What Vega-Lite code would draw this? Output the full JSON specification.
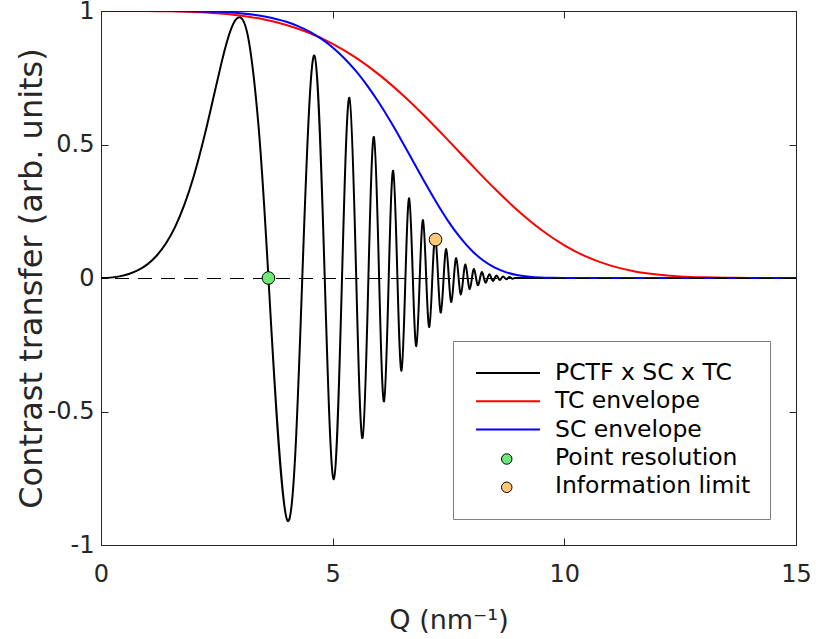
{
  "$schema": "https://vega.github.io/schema/vega-lite/v6.json",
  "width": 695,
  "height": 534,
  "autosize": {"type": "none"},
  "padding": {"left": 101, "top": 11, "right": 20, "bottom": 94},
  "background": "#ffffff",
  "config": {
    "view": {"stroke": "#262626", "strokeWidth": 1},
    "font": "DejaVu Sans",
    "axis": {
      "domain": false, "grid": false,
      "ticks": true, "tickSize": 7, "offset": -7, "tickColor": "#262626", "tickWidth": 1,
      "labelFont": "DejaVu Sans", "labelFontSize": 24, "labelColor": "#262626",
      "labelFlush": false, "labelOverlap": false, "labelBound": false,
      "titleFont": "DejaVu Sans", "titleFontWeight": "normal", "titleColor": "#262626"
    },
    "axisX": {"labelPadding": 17, "titlePadding": 21, "titleFontSize": 27},
    "axisY": {"labelPadding": 7, "titlePadding": -1, "titleFontSize": 32}
  },
  "datasets": {
    "curves": [
      {"s": "PCTF x SC x TC", "g": "a", "q": 0, "v": 0},
      {"s": "PCTF x SC x TC", "g": "a", "q": 0.2, "v": 0.0014},
      {"s": "PCTF x SC x TC", "g": "a", "q": 0.4, "v": 0.0061},
      {"s": "PCTF x SC x TC", "g": "a", "q": 0.6, "v": 0.0148},
      {"s": "PCTF x SC x TC", "g": "a", "q": 0.8, "v": 0.0291},
      {"s": "PCTF x SC x TC", "g": "a", "q": 1.0, "v": 0.0511},
      {"s": "PCTF x SC x TC", "g": "a", "q": 1.2, "v": 0.0834},
      {"s": "PCTF x SC x TC", "g": "a", "q": 1.4, "v": 0.1291},
      {"s": "PCTF x SC x TC", "g": "a", "q": 1.6, "v": 0.1916},
      {"s": "PCTF x SC x TC", "g": "a", "q": 1.8, "v": 0.2746},
      {"s": "PCTF x SC x TC", "g": "a", "q": 2.0, "v": 0.3803},
      {"s": "PCTF x SC x TC", "g": "a", "q": 2.2, "v": 0.5091},
      {"s": "PCTF x SC x TC", "g": "a", "q": 2.4, "v": 0.6557},
      {"s": "PCTF x SC x TC", "g": "a", "q": 2.6, "v": 0.8057},
      {"s": "PCTF x SC x TC", "g": "a", "q": 2.8, "v": 0.9294},
      {"s": "PCTF x SC x TC", "g": "a", "q": 3.0, "v": 0.9763},
      {"s": "PCTF x SC x TC", "g": "a", "q": 3.2, "v": 0.8780},
      {"s": "PCTF x SC x TC", "g": "a", "q": 3.4, "v": 0.5691},
      {"s": "PCTF x SC x TC", "g": "a", "q": 3.6140, "v": 0},
      {"s": "PCTF x SC x TC", "g": "a", "q": 4.0269, "v": -0.9096},
      {"s": "PCTF x SC x TC", "g": "a", "q": 4.3442, "v": 0},
      {"s": "PCTF x SC x TC", "g": "a", "q": 4.6053, "v": 0.8330},
      {"s": "PCTF x SC x TC", "g": "a", "q": 4.8289, "v": 0},
      {"s": "PCTF x SC x TC", "g": "a", "q": 5.0255, "v": -0.7536},
      {"s": "PCTF x SC x TC", "g": "a", "q": 5.2017, "v": 0},
      {"s": "PCTF x SC x TC", "g": "a", "q": 5.3616, "v": 0.6751},
      {"s": "PCTF x SC x TC", "g": "a", "q": 5.5085, "v": 0},
      {"s": "PCTF x SC x TC", "g": "a", "q": 5.6446, "v": -0.5995},
      {"s": "PCTF x SC x TC", "g": "a", "q": 5.7714, "v": 0},
      {"s": "PCTF x SC x TC", "g": "a", "q": 5.8904, "v": 0.5283},
      {"s": "PCTF x SC x TC", "g": "a", "q": 6.0026, "v": 0},
      {"s": "PCTF x SC x TC", "g": "a", "q": 6.1088, "v": -0.4622},
      {"s": "PCTF x SC x TC", "g": "a", "q": 6.2097, "v": 0},
      {"s": "PCTF x SC x TC", "g": "a", "q": 6.3058, "v": 0.4018},
      {"s": "PCTF x SC x TC", "g": "a", "q": 6.3977, "v": 0},
      {"s": "PCTF x SC x TC", "g": "a", "q": 6.4858, "v": -0.3472},
      {"s": "PCTF x SC x TC", "g": "a", "q": 6.5704, "v": 0},
      {"s": "PCTF x SC x TC", "g": "a", "q": 6.6518, "v": 0.2984},
      {"s": "PCTF x SC x TC", "g": "a", "q": 6.7303, "v": 0},
      {"s": "PCTF x SC x TC", "g": "a", "q": 6.8061, "v": -0.2550},
      {"s": "PCTF x SC x TC", "g": "a", "q": 6.8794, "v": 0},
      {"s": "PCTF x SC x TC", "g": "a", "q": 6.9504, "v": 0.2168},
      {"s": "PCTF x SC x TC", "g": "a", "q": 7.0192, "v": 0},
      {"s": "PCTF x SC x TC", "g": "a", "q": 7.0860, "v": -0.1835},
      {"s": "PCTF x SC x TC", "g": "a", "q": 7.1510, "v": 0},
      {"s": "PCTF x SC x TC", "g": "a", "q": 7.2142, "v": 0.1545},
      {"s": "PCTF x SC x TC", "g": "a", "q": 7.2758, "v": 0},
      {"s": "PCTF x SC x TC", "g": "a", "q": 7.3358, "v": -0.1296},
      {"s": "PCTF x SC x TC", "g": "a", "q": 7.3943, "v": 0},
      {"s": "PCTF x SC x TC", "g": "a", "q": 7.4514, "v": 0.1082},
      {"s": "PCTF x SC x TC", "g": "a", "q": 7.5072, "v": 0},
      {"s": "PCTF x SC x TC", "g": "a", "q": 7.5618, "v": -0.0900},
      {"s": "PCTF x SC x TC", "g": "a", "q": 7.6152, "v": 0},
      {"s": "PCTF x SC x TC", "g": "a", "q": 7.6675, "v": 0.0745},
      {"s": "PCTF x SC x TC", "g": "a", "q": 7.7186, "v": 0},
      {"s": "PCTF x SC x TC", "g": "a", "q": 7.7688, "v": -0.0615},
      {"s": "PCTF x SC x TC", "g": "a", "q": 7.8180, "v": 0},
      {"s": "PCTF x SC x TC", "g": "a", "q": 7.8662, "v": 0.0505},
      {"s": "PCTF x SC x TC", "g": "a", "q": 7.9135, "v": 0},
      {"s": "PCTF x SC x TC", "g": "a", "q": 7.9600, "v": -0.0414},
      {"s": "PCTF x SC x TC", "g": "a", "q": 8.0057, "v": 0},
      {"s": "PCTF x SC x TC", "g": "a", "q": 8.0505, "v": 0.0338},
      {"s": "PCTF x SC x TC", "g": "a", "q": 8.0946, "v": 0},
      {"s": "PCTF x SC x TC", "g": "a", "q": 8.1380, "v": -0.0275},
      {"s": "PCTF x SC x TC", "g": "a", "q": 8.1807, "v": 0},
      {"s": "PCTF x SC x TC", "g": "a", "q": 8.2227, "v": 0.0223},
      {"s": "PCTF x SC x TC", "g": "a", "q": 8.2640, "v": 0},
      {"s": "PCTF x SC x TC", "g": "a", "q": 8.3047, "v": -0.0180},
      {"s": "PCTF x SC x TC", "g": "a", "q": 8.3448, "v": 0},
      {"s": "PCTF x SC x TC", "g": "a", "q": 8.3843, "v": 0.0145},
      {"s": "PCTF x SC x TC", "g": "a", "q": 8.4232, "v": 0},
      {"s": "PCTF x SC x TC", "g": "a", "q": 8.4616, "v": -0.0116},
      {"s": "PCTF x SC x TC", "g": "a", "q": 8.4994, "v": 0},
      {"s": "PCTF x SC x TC", "g": "a", "q": 8.5367, "v": 0.0093},
      {"s": "PCTF x SC x TC", "g": "a", "q": 8.5735, "v": 0},
      {"s": "PCTF x SC x TC", "g": "a", "q": 8.6099, "v": -0.0074},
      {"s": "PCTF x SC x TC", "g": "a", "q": 8.6457, "v": 0},
      {"s": "PCTF x SC x TC", "g": "a", "q": 8.6811, "v": 0.0059},
      {"s": "PCTF x SC x TC", "g": "a", "q": 8.7161, "v": 0},
      {"s": "PCTF x SC x TC", "g": "a", "q": 8.7506, "v": -0.0047},
      {"s": "PCTF x SC x TC", "g": "a", "q": 8.7847, "v": 0},
      {"s": "PCTF x SC x TC", "g": "a", "q": 8.8184, "v": 0.0037},
      {"s": "PCTF x SC x TC", "g": "a", "q": 8.8517, "v": 0},
      {"s": "PCTF x SC x TC", "g": "a", "q": 8.8846, "v": -0.0029},
      {"s": "PCTF x SC x TC", "g": "a", "q": 8.9172, "v": 0},
      {"s": "PCTF x SC x TC", "g": "b", "q": 8.9172, "v": 0},
      {"s": "PCTF x SC x TC", "g": "b", "q": 15, "v": 0},
      {"s": "TC envelope", "g": "a", "q": 0, "v": 1},
      {"s": "TC envelope", "g": "a", "q": 0.5, "v": 1.0},
      {"s": "TC envelope", "g": "a", "q": 1.0, "v": 0.9998},
      {"s": "TC envelope", "g": "a", "q": 1.5, "v": 0.9989},
      {"s": "TC envelope", "g": "a", "q": 2.0, "v": 0.9966},
      {"s": "TC envelope", "g": "a", "q": 2.5, "v": 0.9918},
      {"s": "TC envelope", "g": "a", "q": 3.0, "v": 0.9831},
      {"s": "TC envelope", "g": "a", "q": 3.5, "v": 0.9690},
      {"s": "TC envelope", "g": "a", "q": 4.0, "v": 0.9477},
      {"s": "TC envelope", "g": "a", "q": 4.5, "v": 0.9175},
      {"s": "TC envelope", "g": "a", "q": 5.0, "v": 0.8770},
      {"s": "TC envelope", "g": "a", "q": 5.5, "v": 0.8252},
      {"s": "TC envelope", "g": "a", "q": 6.0, "v": 0.7617},
      {"s": "TC envelope", "g": "a", "q": 6.5, "v": 0.6874},
      {"s": "TC envelope", "g": "a", "q": 7.0, "v": 0.6040},
      {"s": "TC envelope", "g": "a", "q": 7.5, "v": 0.5146},
      {"s": "TC envelope", "g": "a", "q": 8.0, "v": 0.4231},
      {"s": "TC envelope", "g": "a", "q": 8.5, "v": 0.3341},
      {"s": "TC envelope", "g": "a", "q": 9.0, "v": 0.2521},
      {"s": "TC envelope", "g": "a", "q": 9.5, "v": 0.1808},
      {"s": "TC envelope", "g": "a", "q": 10.0, "v": 0.1225},
      {"s": "TC envelope", "g": "a", "q": 10.5, "v": 0.0779},
      {"s": "TC envelope", "g": "a", "q": 11.0, "v": 0.0462},
      {"s": "TC envelope", "g": "a", "q": 11.5, "v": 0.0254},
      {"s": "TC envelope", "g": "a", "q": 12.0, "v": 0.0128},
      {"s": "TC envelope", "g": "a", "q": 12.5, "v": 0.0059},
      {"s": "TC envelope", "g": "a", "q": 13.0, "v": 0.0025},
      {"s": "TC envelope", "g": "a", "q": 13.5, "v": 0.0009},
      {"s": "TC envelope", "g": "a", "q": 14.0, "v": 0.0003},
      {"s": "TC envelope", "g": "a", "q": 14.5, "v": 0.0001},
      {"s": "TC envelope", "g": "a", "q": 15.0, "v": 0},
      {"s": "SC envelope", "g": "a", "q": 0, "v": 1},
      {"s": "SC envelope", "g": "a", "q": 0.5, "v": 1.0},
      {"s": "SC envelope", "g": "a", "q": 1.0, "v": 1.0},
      {"s": "SC envelope", "g": "a", "q": 1.5, "v": 0.9998},
      {"s": "SC envelope", "g": "a", "q": 2.0, "v": 0.9990},
      {"s": "SC envelope", "g": "a", "q": 2.5, "v": 0.9968},
      {"s": "SC envelope", "g": "a", "q": 3.0, "v": 0.9916},
      {"s": "SC envelope", "g": "a", "q": 3.5, "v": 0.9806},
      {"s": "SC envelope", "g": "a", "q": 4.0, "v": 0.9596},
      {"s": "SC envelope", "g": "a", "q": 4.25, "v": 0.9435},
      {"s": "SC envelope", "g": "a", "q": 4.5, "v": 0.9228},
      {"s": "SC envelope", "g": "a", "q": 4.75, "v": 0.8963},
      {"s": "SC envelope", "g": "a", "q": 5.0, "v": 0.8634},
      {"s": "SC envelope", "g": "a", "q": 5.25, "v": 0.8233},
      {"s": "SC envelope", "g": "a", "q": 5.5, "v": 0.7754},
      {"s": "SC envelope", "g": "a", "q": 5.75, "v": 0.7196},
      {"s": "SC envelope", "g": "a", "q": 6.0, "v": 0.6561},
      {"s": "SC envelope", "g": "a", "q": 6.25, "v": 0.5860},
      {"s": "SC envelope", "g": "a", "q": 6.5, "v": 0.5107},
      {"s": "SC envelope", "g": "a", "q": 6.75, "v": 0.4326},
      {"s": "SC envelope", "g": "a", "q": 7.0, "v": 0.3546},
      {"s": "SC envelope", "g": "a", "q": 7.25, "v": 0.2798},
      {"s": "SC envelope", "g": "a", "q": 7.5, "v": 0.2113},
      {"s": "SC envelope", "g": "a", "q": 7.75, "v": 0.1518},
      {"s": "SC envelope", "g": "a", "q": 8.0, "v": 0.1030},
      {"s": "SC envelope", "g": "a", "q": 8.25, "v": 0.0656},
      {"s": "SC envelope", "g": "a", "q": 8.5, "v": 0.0388},
      {"s": "SC envelope", "g": "a", "q": 8.75, "v": 0.0212},
      {"s": "SC envelope", "g": "a", "q": 9.0, "v": 0.0105},
      {"s": "SC envelope", "g": "a", "q": 9.25, "v": 0.0047},
      {"s": "SC envelope", "g": "a", "q": 9.5, "v": 0.0019},
      {"s": "SC envelope", "g": "a", "q": 9.75, "v": 0.0007},
      {"s": "SC envelope", "g": "a", "q": 10.0, "v": 0.0002},
      {"s": "SC envelope", "g": "a", "q": 10.5, "v": 0},
      {"s": "SC envelope", "g": "a", "q": 11.0, "v": 0},
      {"s": "SC envelope", "g": "a", "q": 15.0, "v": 0}
    ],
    "pts": [
      {"p": "Point resolution", "q": 3.614, "v": 0},
      {"p": "Information limit", "q": 7.22, "v": 0.144}
    ]
  },
  "layer": [
    {
      "data": {"name": "curves"},
      "transform": [{"filter": "datum.s === 'PCTF x SC x TC'"}],
      "mark": {"type": "line", "interpolate": "natural", "strokeWidth": 2, "clip": true},
      "encoding": {
        "x": {"field": "q", "type": "quantitative", "scale": {"domain": [0, 15], "nice": false},
              "axis": {"orient": "bottom", "values": [0, 5, 10, 15], "title": "Q (nm⁻¹)"}},
        "y": {"field": "v", "type": "quantitative", "scale": {"domain": [-1, 1], "nice": false},
              "axis": {"orient": "left", "values": [-1, -0.5, 0, 0.5, 1], "format": "~g", "title": "Contrast transfer (arb. units)",
                       "labelExpr": "replace(datum.label, '−', '-')"}},
        "color": {
          "field": "s", "type": "nominal",
          "scale": {
            "domain": ["PCTF x SC x TC", "TC envelope", "SC envelope", "Point resolution", "Information limit"],
            "range": ["#000000", "#ff0000", "#0000ff", "#ffffff", "#ffffff"]
          },
          "legend": {
            "orient": "none", "legendX": 352, "legendY": 330, "title": null,
            "symbolType": "stroke", "symbolSize": 4096, "symbolStrokeWidth": 2,
            "clipHeight": 26, "rowPadding": 2.3, "padding": 19, "symbolOffset": 4, "labelOffset": 19,
            "labelFont": "DejaVu Sans", "labelFontSize": 23.5, "labelColor": "#000000", "labelLimit": 400,
            "strokeColor": "#7f7f7f", "fillColor": "#ffffff",
            "encode": {
              "symbols": {
                "update": {
                  "x": {"value": 36},
                  "shape": {"value": "stroke"},
                  "size": {"signal": "datum.value === 'Point resolution' || datum.value === 'Information limit' ? 0 : 4096"}
                }
              },
              "labels": {
                "update": {
                  "x": {"value": 83}
                }
              }
            }
          }
        },
        "detail": {"field": "g"}
      }
    },
    {
      "data": {"name": "curves"},
      "transform": [{"filter": "datum.s === 'TC envelope'"}],
      "mark": {"type": "line", "interpolate": "monotone", "strokeWidth": 2, "clip": true},
      "encoding": {
        "x": {"field": "q", "type": "quantitative", "scale": {"domain": [0, 15], "nice": false}, "axis": null},
        "y": {"field": "v", "type": "quantitative", "scale": {"domain": [-1, 1], "nice": false}, "axis": null},
        "color": {"field": "s", "type": "nominal"}
      }
    },
    {
      "data": {"name": "curves"},
      "transform": [{"filter": "datum.s === 'SC envelope'"}],
      "mark": {"type": "line", "interpolate": "monotone", "strokeWidth": 2, "clip": true},
      "encoding": {
        "x": {"field": "q", "type": "quantitative", "scale": {"domain": [0, 15], "nice": false}, "axis": null},
        "y": {"field": "v", "type": "quantitative", "scale": {"domain": [-1, 1], "nice": false}, "axis": null},
        "color": {"field": "s", "type": "nominal"}
      }
    },
    {
      "data": {"values": [{"v": 0}]},
      "mark": {"type": "rule", "color": "#000000", "strokeWidth": 1, "strokeDash": [14, 9], "yOffset": 0.5},
      "encoding": {
        "y": {"field": "v", "type": "quantitative", "scale": {"domain": [-1, 1], "nice": false}, "axis": null}
      }
    },
    {
      "data": {"name": "pts"},
      "mark": {"type": "point", "shape": "circle", "filled": true, "size": 160, "stroke": "#000000", "strokeWidth": 1, "opacity": 1, "fillOpacity": 1},
      "encoding": {
        "x": {"field": "q", "type": "quantitative", "scale": {"domain": [0, 15], "nice": false},
              "axis": {"orient": "top", "values": [0, 5, 10, 15], "labels": false, "title": null}},
        "y": {"field": "v", "type": "quantitative", "scale": {"domain": [-1, 1], "nice": false},
              "axis": {"orient": "right", "values": [-1, -0.5, 0, 0.5, 1], "labels": false, "title": null}},
        "fill": {
          "field": "p", "type": "nominal",
          "scale": {"domain": ["Point resolution", "Information limit"], "range": ["#6ee878", "#ffc978"]},
          "legend": {
            "orient": "none", "legendX": 394, "legendY": 435, "title": null,
            "symbolType": "circle", "symbolSize": 110, "symbolStrokeColor": "#000000", "symbolStrokeWidth": 1,
            "clipHeight": 26, "rowPadding": 2.3, "padding": 0, "symbolOffset": 0, "labelOffset": 19,
            "labelFont": "DejaVu Sans", "labelFontSize": 23.5, "labelExpr": "''",
            "strokeColor": null, "fillColor": null
          }
        }
      }
    }
  ],
  "resolve": {"axis": {"x": "independent", "y": "independent"}}
}
